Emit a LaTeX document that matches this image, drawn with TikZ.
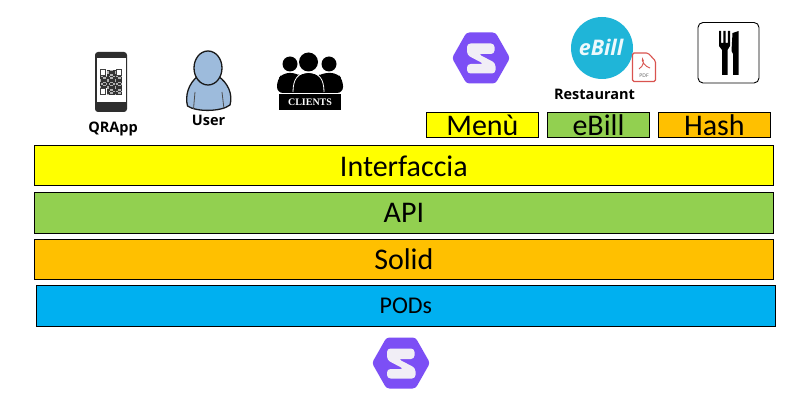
\documentclass[tikz,border=0pt]{standalone}
\usepackage{fontspec}
\setmainfont{Carlito}
\newfontfamily\labelfont{Open Sans}
\newfontfamily\clientfont{Liberation Serif}
\usetikzlibrary{calc}
\definecolor{barY}{HTML}{FFFF00}
\definecolor{barG}{HTML}{92D050}
\definecolor{barO}{HTML}{FFC000}
\definecolor{barB}{HTML}{00B0F0}
\definecolor{solidP}{HTML}{7C4FF5}
\definecolor{solidW}{HTML}{F1EEF6}
\definecolor{billC}{HTML}{1FB5D8}
\definecolor{userC}{HTML}{9DBBDC}
\definecolor{pdfR}{HTML}{D9534F}
\tikzset{
  x=1pt,y=-1pt,
  bar/.style={draw=black,line width=0.9pt,minimum width=738.8pt,anchor=north west,inner sep=0pt,text=black},
  tag/.style={draw=black,line width=0.9pt,anchor=north west,inner sep=0pt,minimum height=25.5pt,font=\fontsize{30}{30}\selectfont},
  lab/.style={font=\labelfont\bfseries\fontsize{14.5}{14.5}\selectfont,text=black,inner sep=0pt},
  solidlogo/.pic={
    \fill[solidP,rounded corners=3pt] (-29,0) -- (-14.5,-25.5) -- (14.5,-25.5) -- (29,0) -- (14.5,25.5) -- (-14.5,25.5) -- cycle;
    \fill[solidW,rounded corners=3.5pt] (-14,-14.5) -- (13.5,-14.5) -- (13.5,-4) -- (-3,-4) -- (14.5,5) -- (14.5,15.5) -- (-14,15.5) -- (-14,6) -- (3,6) -- (-14,-3) -- cycle;
  }
}
\begin{document}
\begin{tikzpicture}
\useasboundingbox (0,0) rectangle (811,406);
\fill[white] (0,0) rectangle (811,406);

% bars
\node[bar,fill=barY,minimum height=40pt,font=\fontsize{30}{30}\selectfont] (interfaccia) at (34,145.5) {Interfaccia};
\node[bar,fill=barG,minimum height=41pt,font=\fontsize{30}{30}\selectfont] (api) at (34,192) {API};
\node[bar,fill=barO,minimum height=40pt,font=\fontsize{30}{30}\selectfont] (solid) at (34,239) {\raisebox{1pt}{Solid}};
\node[bar,fill=barB,minimum height=41pt,font=\fontsize{24}{24}\selectfont] (pods) at (36,285) {PODs};

% tags
\node[tag,fill=barY,minimum width=112pt] (menu) at (426,112) {Menù};
\node[tag,fill=barG,minimum width=102pt] (ebill) at (547,112) {eBill};
\node[tag,fill=barO,minimum width=112pt] (hash) at (658,112) {Hash};

% Solid logos
\pic at (481,58) {solidlogo};
\pic at (401,363) {solidlogo};

% phone
\fill[black!82,rounded corners=3pt] (95,52) rectangle (127,112);
\fill[white] (96.5,58) rectangle (125.5,102);
\fill[black!30] (100,70) rectangle (122,95);
\foreach \i in {0,...,14}{\foreach \j in {0,...,16}{
  \pgfmathparse{mod(\i*\i*7+\j*\j*3+\i*\j*5+\j,5)<3?1:0}
  \ifnum\pgfmathresult=1 \fill[black!80] ({100+\i*1.47},{70+\j*1.47}) rectangle +(1.47,1.47);\fi
}}
\foreach \px/\py in {100/70,116/70,100/89}{
  \fill[white] (\px-0.5,\py-0.5) rectangle +(7,7);
  \draw[black!75,line width=1pt] (\px,\py) rectangle +(5.5,5.5);
}
\node[lab] (qrapp) at (113,129) {QRApp};

% user
\draw[fill=userC,draw=black!90,line width=1.3pt] (198,76)
  .. controls (188,84) and (185,96) .. (187.5,106)
  .. controls (196,112) and (221,112) .. (230,105)
  .. controls (233,94) and (228,83) .. (218,76) -- cycle;
\draw[fill=userC,draw=black!90,line width=1.3pt] (208,68) ellipse [x radius=14,y radius=17];
\fill[userC] (198,76) .. controls (203,86) and (213,86) .. (218,76) -- (214,70) -- (202,70) -- cycle;
\draw[black!70,line width=0.8pt] (195,92) -- (193.5,109) (222,92) -- (224,109);
\node[lab] (user) at (208.5,120.5) {User};

% clients
\fill[black] (290,64) circle (7.5) (329,64) circle (7.5) (308.5,62) circle (9.5);
\fill[black,rounded corners=6pt] (277,93) -- (277,80) -- (283,73) -- (297,73) -- (303,78) -- (315,78) -- (322,73) -- (337,73) -- (343,80) -- (343,93) -- cycle;
\fill[black] (293,92) .. controls (293,80) and (298,73) .. (308.5,73) .. controls (319,73) and (324,80) .. (324,92) -- cycle;
\draw[white,line width=0.8pt] (293,92) .. controls (293,79) and (298,72.5) .. (308.5,72.5) .. controls (319,72.5) and (324,79) .. (324,92);
\fill[black] (279,94) rectangle (341,110);
\node[font=\clientfont\bfseries\fontsize{10}{10}\selectfont,text=white,inner sep=0pt] (clients) at (310,102) {CLIENTS};

% eBill badge
\fill[billC] (602,48) circle (31);
\node[font=\labelfont\bfseries\itshape\fontsize{21.5}{21.5}\selectfont,text=white!92!billC,inner sep=0pt] (ebilllogo) at (601,47.5) {eBill};
\draw[pdfR,fill=white,line width=1.1pt,rounded corners=1.5pt] (632.5,53) -- (648,53) -- (655.5,61) -- (655.5,81.5) -- (632.5,81.5) -- cycle;
\draw[pdfR,line width=0.9pt] (639,69) .. controls (644,66) and (644,60) .. (642.5,59) .. controls (641,60) and (645,67) .. (650,68);
\node[font=\labelfont\fontsize{5}{5}\selectfont,text=black!65,inner sep=0pt] (pdf) at (644,75.5) {PDF};
\node[lab] (restaurant) at (594.5,94) {Restaurant};

% cutlery
\draw[black,fill=white,line width=0.9pt,rounded corners=5pt] (698,22.5) rectangle (759,83);
\fill[black] (719,31) -- (721.2,31) -- (721.2,43) -- (723.3,43) -- (723.3,31) -- (725.6,31) -- (725.6,43) -- (727.8,43) -- (727.8,31) -- (730,31) -- (730,46) -- (727.5,50) -- (727.5,75) -- (722,75) -- (722,50) -- (719,46) -- cycle;
\fill[black] (732.5,33) -- (738.5,31) -- (738.5,75) -- (733,75) -- (733,54) -- (731.5,51) -- cycle;
\end{tikzpicture}
\end{document}
